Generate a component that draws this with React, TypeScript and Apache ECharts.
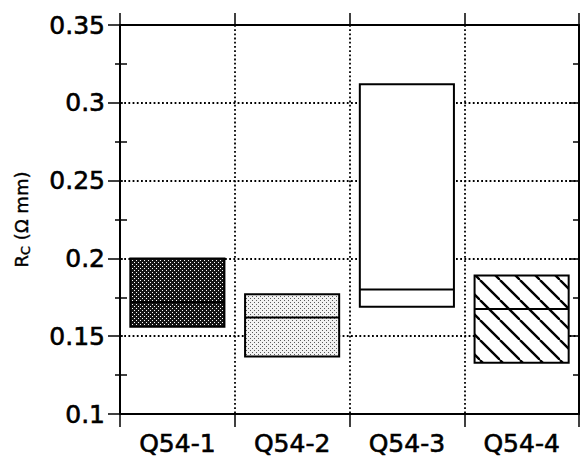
import React, { useEffect, useRef } from "react";
import * as echarts from "echarts";

// Contact resistance range (min, median, max) per sample, in Ω·mm
const categories = ["Q54-1", "Q54-2", "Q54-3", "Q54-4"];
const lows = [0.156, 0.137, 0.169, 0.133];
const medians = [0.172, 0.162, 0.18, 0.1675];
const highs = [0.2, 0.177, 0.312, 0.189];

const FONT = "DejaVu Sans";

function makeTile(size: number, draw: (ctx: CanvasRenderingContext2D) => void) {
  const c = document.createElement("canvas");
  c.width = size;
  c.height = size;
  const ctx = c.getContext("2d")!;
  draw(ctx);
  return c;
}

function buildFills() {
  const dark = makeTile(4, (ctx) => {
    ctx.fillStyle = "#151515";
    ctx.fillRect(0, 0, 4, 4);
    ctx.fillStyle = "#ffffff";
    ctx.fillRect(0, 0, 1, 1);
    ctx.fillRect(2, 2, 1, 1);
  });
  const light = makeTile(4, (ctx) => {
    ctx.fillStyle = "#f2f2f2";
    ctx.fillRect(0, 0, 4, 4);
    ctx.fillStyle = "#5a5a5a";
    ctx.fillRect(0, 0, 1, 1);
    ctx.fillRect(2, 2, 1, 1);
  });
  const hatch = makeTile(20, (ctx) => {
    ctx.fillStyle = "#ffffff";
    ctx.fillRect(0, 0, 20, 20);
    ctx.strokeStyle = "#000000";
    ctx.lineWidth = 2.4;
    for (const x0 of [-20, 0, 20]) {
      ctx.beginPath();
      ctx.moveTo(x0, 0);
      ctx.lineTo(x0 + 20, 20);
      ctx.stroke();
    }
  });
  return [
    { image: dark, repeat: "repeat" },
    { image: light, repeat: "repeat" },
    "#ffffff",
    { image: hatch, repeat: "repeat" },
  ];
}

const dotted = { color: "#000", width: 1.8, type: [1.8, 2.4] as number[] };
const heavyText = { textBorderColor: "#000", textBorderWidth: 0.6 };

export default function App() {
  const ref = useRef<HTMLDivElement>(null);

  useEffect(() => {
    if (!ref.current) return;
    const chart = echarts.init(ref.current, undefined, { renderer: "svg" });
    const fills = buildFills();

    const yScale = { type: "value" as const, min: 0.1, max: 0.35, interval: 0.05 };

    chart.setOption({
      animation: false,
      backgroundColor: "#ffffff",
      grid: { left: 120, right: 4, top: 25, bottom: 48 },
      xAxis: [
        {
          type: "category",
          data: categories,
          position: "bottom",
          boundaryGap: true,
          axisLine: { lineStyle: { color: "#000", width: 2 } },
          axisTick: { show: true, interval: 0, length: 13, lineStyle: { color: "#000", width: 1.5 } },
          axisLabel: { interval: 0, margin: 17, color: "#000", fontFamily: FONT, fontSize: 25, ...heavyText },
          splitLine: { show: true, interval: 0, lineStyle: dotted },
        },
        {
          type: "category",
          data: categories,
          position: "top",
          boundaryGap: true,
          axisLine: { lineStyle: { color: "#000", width: 2 } },
          axisTick: { show: true, interval: 0, length: 12, lineStyle: { color: "#000", width: 1.5 } },
          axisLabel: { show: false },
          splitLine: { show: false },
        },
      ],
      yAxis: [
        {
          ...yScale,
          position: "left",
          name: "{r|R}{s|C}{r| (Ω mm)}",
          nameLocation: "middle",
          nameRotate: 90,
          nameGap: 87,
          nameTextStyle: {
            color: "#000",
            rich: {
              r: { fontFamily: FONT, fontSize: 18, color: "#000", lineHeight: 24, ...heavyText, textBorderWidth: 0.4 },
              s: { fontFamily: FONT, fontSize: 13, color: "#000", lineHeight: 24, padding: [9, 0, 0, 0], ...heavyText, textBorderWidth: 0.4 },
            },
          },
          axisLine: { show: true, lineStyle: { color: "#000", width: 2 } },
          axisTick: { show: true, length: 12, lineStyle: { color: "#000", width: 1.5 } },
          minorTick: { show: true, splitNumber: 2, length: 5, lineStyle: { color: "#000", width: 1.5 } },
          axisLabel: { margin: 15, color: "#000", fontFamily: FONT, fontSize: 25, ...heavyText },
          splitLine: { show: true, lineStyle: dotted },
        },
        {
          ...yScale,
          position: "left",
          axisLine: { show: false },
          axisTick: { show: true, inside: true, length: 3, lineStyle: { color: "#000", width: 1.5 } },
          minorTick: { show: true, splitNumber: 2, length: 7, lineStyle: { color: "#000", width: 1.5 } },
          axisLabel: { show: false },
          splitLine: { show: false },
        },
        {
          ...yScale,
          position: "right",
          axisLine: { show: true, lineStyle: { color: "#000", width: 2 } },
          axisTick: { show: true, inside: true, length: 10, lineStyle: { color: "#000", width: 1.5 } },
          minorTick: { show: true, splitNumber: 2, length: 6, lineStyle: { color: "#000", width: 1.5 } },
          axisLabel: { show: false },
          splitLine: { show: false },
        },
      ],
      series: [
        {
          type: "custom",
          xAxisIndex: 0,
          yAxisIndex: 0,
          encode: { x: 0, y: [1, 2, 3] },
          data: categories.map((_, i) => [i, lows[i], medians[i], highs[i]]),
          renderItem: (params: any, api: any) => {
            const idx = api.value(0);
            const lo = api.coord([idx, api.value(1)]);
            const md = api.coord([idx, api.value(2)]);
            const hi = api.coord([idx, api.value(3)]);
            const w = api.size([1, 0])[0] * 0.82;
            const x = lo[0] - w / 2;
            return {
              type: "group",
              children: [
                {
                  type: "rect",
                  shape: { x, y: hi[1], width: w, height: lo[1] - hi[1] },
                  style: { fill: fills[params.dataIndex], stroke: "#000", lineWidth: 2 },
                },
                {
                  type: "line",
                  shape: { x1: x, y1: md[1], x2: x + w, y2: md[1] },
                  style: { stroke: "#000", lineWidth: 2 },
                },
              ],
            };
          },
        },
      ],
    });

    return () => chart.dispose();
  }, []);

  return <div ref={ref} style={{ width: 583, height: 462, position: "absolute", left: 0, top: 0 }} />;
}
